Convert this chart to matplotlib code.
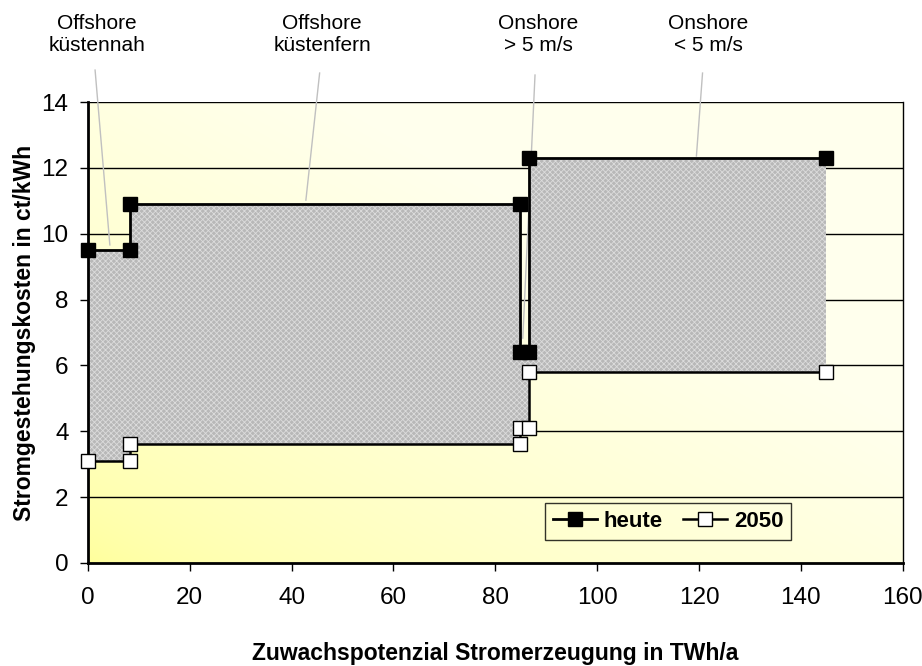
import matplotlib

matplotlib.use("Agg")
import matplotlib.pyplot as plt
import numpy as np

plt.rcParams["font.family"] = ["Liberation Sans", "DejaVu Sans"]
plt.rcParams["hatch.linewidth"] = 0.6

# step edges (TWh/a) and cost levels (ct/kWh) for each segment
edges = [0, 8.3, 84.8, 86.7, 145]
heute = [9.5, 10.9, 6.4, 12.3]
y2050 = [3.1, 3.6, 4.1, 5.8]

# segment labels: text position and leader-line end (data coords)
seg_labels = ["Offshore\nküstennah", "Offshore\nküstenfern", "Onshore\n> 5 m/s", "Onshore\n< 5 m/s"]
label_x = [1.8, 46.0, 88.5, 121.8]
leader_top = [(1.4, 14.97), (45.5, 14.88), (87.8, 14.82), (120.7, 14.88)]
leader_end = [(4.3, 9.66), (42.8, 11.02), (85.4, 6.83), (119.5, 12.36)]


def step_points(xs, levels):
    px, py = [], []
    for i, lv in enumerate(levels):
        px += [xs[i], xs[i + 1]]
        py += [lv, lv]
    return px, py


fig = plt.figure(figsize=(9.22, 6.66), dpi=100)
ax = fig.add_axes([0.0954, 0.1547, 0.8836, 0.6921])
ax.set_xlim(0, 160)
ax.set_ylim(0, 14)

# diagonal yellow gradient background
u = np.linspace(0, 1, 300)
gx, gy = np.meshgrid(u, u)
t = np.clip((gx + gy) / 1.3, 0, 1) ** 0.6
c0 = np.array([1.0, 1.0, 0.60])
c1 = np.array([1.0, 1.0, 0.93])
img = c0 * (1 - t[..., None]) + c1 * t[..., None]
ax.imshow(img, extent=(0, 160, 0, 14), origin="lower", aspect="auto", zorder=0)

for yv in range(2, 15, 2):
    ax.axhline(yv, color="black", lw=1, zorder=1)

# shaded range between today and 2050
ax.fill_between(edges, heute + [heute[-1]], y2050 + [y2050[-1]], step="post",
                facecolor="#b8b8b8", edgecolor="#dcdcdc", hatch="xxxxxx", lw=0, zorder=2)

hx, hy = step_points(edges, heute)
fx, fy = step_points(edges, y2050)
ax.plot(hx, hy, color="black", lw=2, marker="s", ms=10.5, mfc="black", mec="black",
        label="heute", zorder=4, clip_on=False)
ax.plot(fx, fy, color="black", lw=1.8, marker="s", ms=10.5, mfc="white", mec="black",
        mew=1, label="2050", zorder=4, clip_on=False)

for txt, lx, top, end in zip(seg_labels, label_x, leader_top, leader_end):
    ax.plot([top[0], end[0]], [top[1], end[1]], color="#c0c0c0", lw=1, zorder=3, clip_on=False)
    ax.text(lx, 16.05, txt, ha="center", va="center", fontsize=15, linespacing=1.15)

ax.spines["top"].set_visible(False)
ax.spines["left"].set_linewidth(2)
ax.spines["bottom"].set_linewidth(2)
ax.spines["right"].set_linewidth(1)

ax.set_xticks(range(0, 161, 20))
ax.set_yticks(range(0, 15, 2))
ax.tick_params(labelsize=17.5, length=6, width=1)
ax.tick_params(axis="x", pad=11)
ax.tick_params(axis="y", pad=8)
ax.set_xlabel("Zuwachspotenzial Stromerzeugung in TWh/a", fontsize=16.5, fontweight="bold", labelpad=24)
ax.set_ylabel("Stromgestehungskosten in ct/kWh", fontsize=16.5, fontweight="bold", labelpad=4)

leg = ax.legend(loc="lower left", bbox_to_anchor=(0.561, 0.05), ncol=2, frameon=True,
                prop={"weight": "bold", "size": 16}, handlelength=2.0, handletextpad=0.3,
                columnspacing=0.9, borderpad=0.35, borderaxespad=0, fancybox=False,
                markerscale=0.9)
leg.get_frame().set_edgecolor("black")
leg.get_frame().set_facecolor("none")
leg.get_frame().set_linewidth(1)

fig.savefig("out.png", dpi=100)
